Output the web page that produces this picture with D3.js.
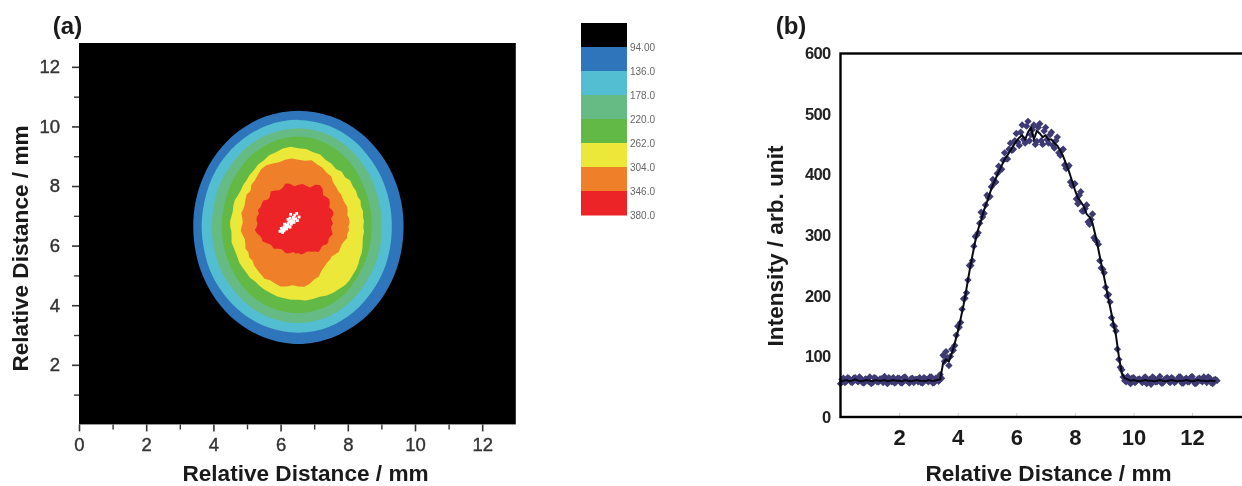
<!DOCTYPE html>
<html><head><meta charset="utf-8">
<script src="https://cdn.jsdelivr.net/npm/d3@7/dist/d3.min.js"></script>
<style>
html,body{margin:0;padding:0;background:#fff;overflow:hidden}
svg{display:block;filter:blur(0.5px)}
text{font-family:"Liberation Sans",Arial,sans-serif}
</style></head><body><svg id="c" width="1242" height="486"></svg>
<script>
// ---- panel (a) data: contour boundaries as radii (mm) about the centre, evenly spaced in angle
const centre = [6.53, 6.64];
const bandColors = ["#000000","#2e75bb","#53bdd2","#66bb85","#63b946","#ece83a","#f07f2a","#ec2427"];
const legendLabels = ["94.00","136.0","178.0","220.0","262.0","304.0","346.0","380.0"];
const ringBlue = [3.13,3.17,3.28,3.45,3.65,3.82,3.89,3.82,3.65,3.45,3.28,3.17,3.13,3.17,3.29,3.47,3.68,3.86,3.94,3.86,3.68,3.47,3.29,3.17];
const ringCyan = [2.78,2.82,2.93,3.10,3.32,3.50,3.58,3.52,3.36,3.18,3.02,2.91,2.88,2.91,3.02,3.17,3.35,3.50,3.56,3.49,3.30,3.09,2.93,2.82];
const ringLtGreen = [2.48,2.52,2.63,2.80,3.02,3.22,3.30,3.23,3.07,2.87,2.72,2.61,2.58,2.61,2.71,2.85,3.03,3.18,3.24,3.16,2.98,2.77,2.62,2.52];
const ringGreen = [2.18,2.22,2.32,2.50,2.72,2.93,3.02,2.95,2.77,2.57,2.41,2.31,2.28,2.31,2.40,2.54,2.72,2.86,2.91,2.83,2.66,2.45,2.30,2.21];
const ringYellow = [1.93,1.96,1.95,1.99,1.98,2.04,2.03,2.09,2.11,2.18,2.16,2.25,2.23,2.33,2.38,2.50,2.53,2.61,2.63,2.69,2.66,2.58,2.55,2.45,2.40,2.31,2.26,2.19,2.15,2.10,2.08,2.09,2.06,2.02,2.02,2.04,2.03,2.00,2.02,2.06,2.05,2.06,2.09,2.14,2.16,2.19,2.24,2.25,2.30,2.35,2.38,2.43,2.44,2.47,2.46,2.49,2.47,2.44,2.46,2.45,2.42,2.41,2.36,2.29,2.24,2.18,2.11,2.08,2.03,1.98,1.95,1.96];
const ringOrange = [1.49,1.53,1.53,1.51,1.56,1.60,1.59,1.61,1.66,1.68,1.74,1.80,1.95,1.99,2.10,2.16,2.26,2.22,2.24,2.29,2.28,2.23,2.25,2.27,2.22,2.11,2.02,1.98,1.86,1.88,1.82,1.76,1.74,1.76,1.70,1.66,1.69,1.72,1.68,1.65,1.68,1.74,1.72,1.79,1.78,1.86,1.90,1.95,2.02,1.99,2.03,2.08,2.04,1.98,2.01,2.03,1.95,1.83,1.78,1.63,1.55,1.48,1.46,1.41,1.44,1.47,1.44,1.42,1.45,1.50,1.47,1.51];
const ringRed = [0.98,1.03,1.02,1.00,1.10,1.15,1.14,1.12,1.22,1.30,1.30,1.28,1.45,1.53,1.50,1.36,1.38,1.43,1.40,1.36,1.46,1.50,1.38,1.34,1.40,1.44,1.32,1.28,1.36,1.33,1.30,1.33,1.25,1.28,1.27,1.22,1.24,1.30,1.26,1.19,1.16,1.18,1.10,1.04,1.02,1.05,0.97,0.92,0.92,0.96,0.96,0.92,0.87,0.92,0.89,0.94,0.92,0.88,0.89,0.93,0.97,1.04,1.02,0.97,0.97,1.03,1.03,0.99,1.00,1.05,1.02,0.98];
const speckX = [5.98,6.02,6.05,6.10,6.10,6.15,6.12,6.20,6.18,6.25,6.28,6.22,6.32,6.22,6.30,6.35,6.40,6.45,6.42,6.50,6.55,6.38,6.30,6.18,6.48,6.14,6.24,6.34,6.06,6.28,6.40,6.12];
const speckY = [6.48,6.58,6.52,6.62,6.50,6.62,6.72,6.68,6.56,6.80,6.62,6.74,6.72,6.88,6.82,6.86,6.78,6.90,7.02,6.84,6.96,6.95,7.05,6.60,7.08,6.68,6.64,6.78,6.44,6.92,6.88,6.56];
// ---- panel (b) data: sampled every 0.1 mm from 0
const lineStep = 0.1;
const lineValues = [58,60,61,59,60,62,60,59,60,61,60,59,61,60,60,61,59,60,61,60,60,59,61,60,59,60,61,60,60,59,61,60,60,61,62,
 88,95,92,105,122,140,162,185,212,240,266,290,310,325,342,355,370,383,394,405,415,425,432,440,448,455,461,465,458,470,478,458,472,468,462,465,458,458,452,448,440,430,418,405,390,375,362,355,348,335,330,320,300,277,253,230,206,182,158,135,100,72,64,62,
 60,61,60,59,60,61,60,60,59,60,61,60,59,60,61,60,59,60,60,61,60,59,60,61,60,60,59,60,60,59];
const markerValues = [55,64,59,63,57,65,58,63,56,62,66,57,64,58,63,67,55,62,65,58,64,56,66,59,63,57,62,65,56,63,58,66,57,64,70,
 102,108,85,112,118,150,156,195,205,250,258,298,304,338,336,366,364,392,388,414,409,436,426,452,442,468,448,482,452,488,466,482,455,484,450,478,452,470,444,462,432,442,410,415,382,385,352,372,340,350,318,335,292,285,246,238,200,190,152,142,95,78,60,67,
 55,65,59,63,57,66,60,54,64,58,67,56,63,59,65,57,62,66,56,64,58,67,55,63,60,66,57,64,55,62];
const markerValuesMid = [62,57,65,58,64,60,66,57,63,59,55,65,58,63,57,60,65,58,56,64,57,65,60,56,64,62,58,57,65,60,66,56,64,59,64,
 92,98,100,110,135,148,178,196,226,250,282,300,320,330,350,362,380,386,402,408,424,426,442,440,456,454,470,458,480,456,474,450,478,456,472,458,466,448,456,436,440,416,412,388,384,360,366,340,344,322,326,296,290,258,244,214,202,164,150,112,82,66,58,58,
 64,57,62,60,64,55,62,66,58,63,56,61,65,57,63,59,66,56,62,58,65,60,56,64,58,62,66,57,61,60];
const tickA = [0,2,4,6,8,10,12];
const tickAMinor = [1,3,5,7,9,11];
const tickBX = [2,4,6,8,10,12];
const tickBY = [0,100,200,300,400,500,600];
const xTitle = "Relative Distance / mm", yTitleA = "Relative Distance / mm", yTitleB = "Intensity / arb. unit";

const svg = d3.select("#c");
// ---------- panel a
const xa = d3.scaleLinear().domain([0,13]).range([79,515.8]);
const ya = d3.scaleLinear().domain([0,12.8]).range([424.4,43]);
svg.append("rect").attr("x",xa(0)).attr("y",ya(12.8)).attr("width",xa(13)-xa(0)).attr("height",ya(0)-ya(12.8)).attr("fill",bandColors[0]);
const rings = [ringBlue,ringCyan,ringLtGreen,ringGreen,ringYellow,ringOrange,ringRed];
rings.forEach((r,i)=>{
  const pts = r.map((v,k)=>{const t=2*Math.PI*k/r.length;return [centre[0]+v*Math.cos(t),centre[1]+v*Math.sin(t)];});
  const gen = d3.line().x(d=>xa(d[0])).y(d=>ya(d[1])).curve(i<4?d3.curveCatmullRomClosed:d3.curveLinearClosed);
  svg.append("path").attr("d",gen(pts)).attr("fill",bandColors[i+1]);
});
svg.append("g").selectAll("rect").data(speckX).join("rect")
  .attr("x",d=>xa(d)-1.4).attr("y",(d,i)=>ya(speckY[i])-1.4).attr("width",2.8).attr("height",2.8).attr("fill","#fff");

function styleAxis(g,color,size,weight){
  g.select(".domain").remove();
  g.selectAll("line").attr("stroke",color);
  g.selectAll("text").attr("fill",color).attr("font-size",size).attr("font-weight",weight);
}
const axA1 = svg.append("g").attr("transform",`translate(0,${ya(0)})`)
  .call(d3.axisBottom(xa).tickValues(tickA).tickFormat(d3.format("d")).tickSize(7).tickPadding(6));
styleAxis(axA1,"#333",18.5,"normal");
axA1.selectAll("line").attr("stroke-width",1.6);
axA1.selectAll("text").attr("stroke","#333").attr("stroke-width",.4);
const axA2 = svg.append("g").attr("transform",`translate(79,0)`)
  .call(d3.axisLeft(ya).tickValues(tickA.slice(1)).tickFormat(d3.format("d")).tickSize(7).tickPadding(12));
styleAxis(axA2,"#333",18.5,"normal");
axA2.selectAll("line").attr("stroke-width",1.6);
axA2.selectAll("text").attr("stroke","#333").attr("stroke-width",.4);
const m1 = svg.append("g").attr("transform",`translate(0,${ya(0)})`).call(d3.axisBottom(xa).tickValues(tickAMinor).tickFormat("").tickSize(5));
styleAxis(m1,"#333",1,"normal"); m1.selectAll("line").attr("stroke-width",1.4);
const m2 = svg.append("g").attr("transform",`translate(79,0)`).call(d3.axisLeft(ya).tickValues(tickAMinor).tickFormat("").tickSize(5));
styleAxis(m2,"#333",1,"normal"); m2.selectAll("line").attr("stroke-width",1.4);

const bold = (x,y,t,s,rot)=>{const e=svg.append("text").attr("font-weight","bold").attr("font-size",s).attr("fill","#1a1a1a").attr("text-anchor","middle").text(t);
  e.attr("transform",`translate(${x},${y})`+(rot?` rotate(${rot})`:""));return e;};
bold(67.5,34,"(a)",24);
bold(305.5,481,xTitle,22.6);
bold(28,248.5,yTitleA,22.6,-90);
// legend
const ly = d3.scaleBand().domain(d3.range(bandColors.length)).range([23,215]);
svg.append("g").selectAll("rect").data(bandColors).join("rect")
  .attr("x",581).attr("y",(d,i)=>ly(i)).attr("width",46).attr("height",ly.bandwidth()+.5).attr("fill",d=>d);
svg.append("g").selectAll("text").data(legendLabels).join("text")
  .attr("x",630).attr("y",(d,i)=>ly(i)+ly.bandwidth()+3.6).attr("font-size",10).attr("fill","#666").text(d=>d);

// ---------- panel b
const xb = d3.scaleLinear().domain([0,14]).range([840.5,1250.7]);
const yb = d3.scaleLinear().domain([0,600]).range([417,53.5]);
const axB1 = svg.append("g").attr("transform",`translate(0,${yb(0)})`)
  .call(d3.axisBottom(xb).tickValues(tickBX).tickFormat(d3.format("d")).tickSize(-4).tickPadding(12));
styleAxis(axB1,"#1a1a1a",22,"bold"); axB1.selectAll("line").attr("stroke","#ccc");
const axB2 = svg.append("g").attr("transform",`translate(${xb(0)},0)`)
  .call(d3.axisLeft(yb).tickValues(tickBY).tickFormat(d3.format("d")).tickSize(0).tickPadding(10));
styleAxis(axB2,"#222",16.5,"bold");
axB2.selectAll("text").attr("letter-spacing",-.7);
const sym = d3.symbol().type(d3.symbolSquare).size(27);
const mark = (vals,off)=>svg.append("g").selectAll("path").data(vals).join("path")
  .attr("d",sym).attr("fill","#3d3a74")
  .attr("transform",(d,i)=>`translate(${xb(i*lineStep+off)},${yb(d)}) rotate(45)`);
mark(markerValues,0);
mark(markerValuesMid,lineStep/2);
svg.append("path").attr("fill","none").attr("stroke","#0a0a14").attr("stroke-width",2)
  .attr("d",d3.line().x((d,i)=>xb(i*lineStep)).y(d=>yb(d))(lineValues));
svg.append("rect").attr("x",xb(0)).attr("y",yb(600)).attr("width",xb(14)-xb(0)).attr("height",yb(0)-yb(600))
  .attr("fill","none").attr("stroke","#000").attr("stroke-width",2.4);
bold(791,34,"(b)",24);
bold(1048.5,481,xTitle,22.6);
bold(783,246,yTitleB,22.6,-90);
</script></body></html>
